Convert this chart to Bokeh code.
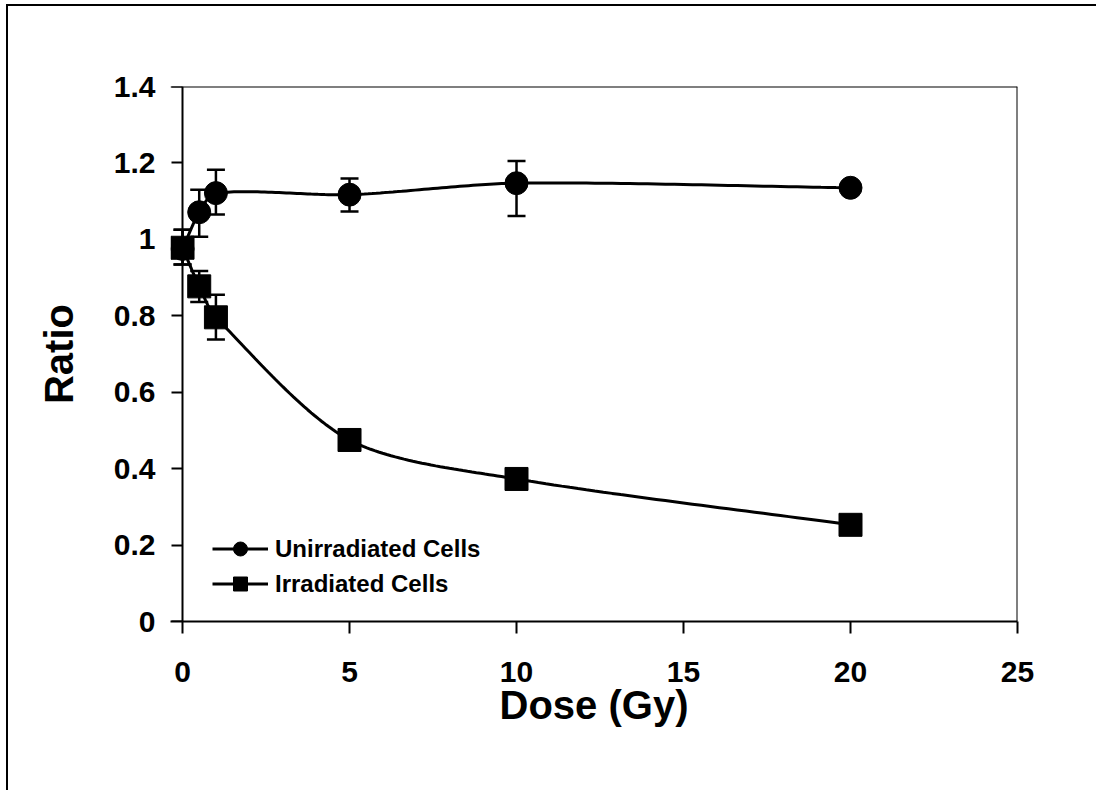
import math
from bokeh.plotting import figure
from bokeh.models import (ColumnDataSource, Whisker, TeeHead, FixedTicker, Legend, LegendItem,
                          Span, LinearAxis)
from bokeh.embed import file_html
from bokeh.resources import INLINE

# ---- data ----
dose = [0, 0.5, 1, 5, 10, 20]
unirr_ratio = [0.975, 1.071, 1.121, 1.117, 1.147, 1.135]
unirr_err_hi = [1.025, 1.130, 1.182, 1.159, 1.205, 1.145]
unirr_err_lo = [0.934, 1.007, 1.065, 1.073, 1.061, 1.125]
irr_ratio = [0.978, 0.877, 0.796, 0.475, 0.373, 0.253]
irr_err_hi = [1.025, 0.917, 0.855, 0.495, 0.388, 0.263]
irr_err_lo = [0.934, 0.836, 0.738, 0.455, 0.358, 0.243]
x_ticks = [0, 5, 10, 15, 20, 25]
x_tick_labels = ["0", "5", "10", "15", "20", "25"]
y_ticks = [0, 0.2, 0.4, 0.6, 0.8, 1.0, 1.2, 1.4]
y_tick_labels = ["0", "0.2", "0.4", "0.6", "0.8", "1", "1.2", "1.4"]
series_names = ["Unirradiated Cells", "Irradiated Cells"]
x_title = "Dose (Gy)"
y_title = "Ratio"

# x range starts slightly left of 0 so the markers at dose 0 are not cut by the frame
X0, X1, Y0, Y1 = -0.36, 25, 0, 1.4
W, H = 1090, 786
ML, MR, MT, MB = 162, 81, 80, 171
SX = (W - ML - MR) / (X1 - X0)
SY = (H - MT - MB) / (Y1 - Y0)


def smooth(xs, ys, n=40, k_ctrl=0.28):
    P = [(x * SX, y * SY) for x, y in zip(xs, ys)]
    m = len(P)
    T = []
    for i in range(m):
        if i == 0:
            d = (P[1][0] - P[0][0], P[1][1] - P[0][1])
        elif i == m - 1:
            d = (P[-1][0] - P[-2][0], P[-1][1] - P[-2][1])
        else:
            d = (P[i + 1][0] - P[i - 1][0], P[i + 1][1] - P[i - 1][1])
        l = math.hypot(*d) or 1
        T.append((d[0] / l, d[1] / l))
    ox, oy = [], []
    for i in range(m - 1):
        a, b = P[i], P[i + 1]
        L = math.hypot(b[0] - a[0], b[1] - a[1]) * k_ctrl
        c1 = (a[0] + T[i][0] * L, a[1] + T[i][1] * L)
        c2 = (b[0] - T[i + 1][0] * L, b[1] - T[i + 1][1] * L)
        for k in range(n + (1 if i == m - 2 else 0)):
            t = k / n
            u = 1 - t
            px = u**3 * a[0] + 3 * u * u * t * c1[0] + 3 * u * t * t * c2[0] + t**3 * b[0]
            py = u**3 * a[1] + 3 * u * u * t * c1[1] + 3 * u * t * t * c2[1] + t**3 * b[1]
            ox.append(px / SX)
            oy.append(py / SY)
    return ox, oy


p = figure(width=W, height=H, x_range=(X0, X1), y_range=(Y0, Y1),
           output_backend="svg", toolbar_location=None,
           min_border_left=ML, min_border_right=MR, min_border_top=MT, min_border_bottom=MB)
p.styles = {"border-left": "2px solid black", "border-top": "2px solid black",
            "margin-left": "6px", "margin-top": "4px"}
p.background_fill_color = "white"
p.border_fill_color = "white"
p.outline_line_color = None
p.xgrid.visible = False
p.ygrid.visible = False

for ax in (p.xaxis[0], p.yaxis[0]):
    ax.axis_line_width = 2
    ax.major_tick_line_width = 2
    ax.minor_tick_line_color = None
    ax.major_tick_in = 0
    ax.major_label_text_font = "Liberation Sans"
    ax.major_label_text_font_style = "bold"
    ax.major_label_text_font_size = "30px"
    ax.major_label_text_color = "black"
    ax.axis_label_text_font = "Liberation Sans"
    ax.axis_label_text_font_style = "bold"
    ax.axis_label_text_font_size = "40px"
    ax.axis_label_text_color = "black"

p.xaxis.ticker = FixedTicker(ticks=x_ticks)
p.xaxis.major_label_overrides = {t: l for t, l in zip(x_ticks, x_tick_labels)}
p.xaxis.major_tick_out = 12
p.xaxis.major_label_standoff = 28
p.xaxis.axis_label = x_title
p.xaxis.axis_label_standoff = -2

# labelled y axis (labels + title only)
ya = p.yaxis[0]
ya.ticker = FixedTicker(ticks=y_ticks)
ya.major_label_overrides = {t: l for t, l in zip(y_ticks, y_tick_labels)}
ya.axis_line_color = None
ya.major_tick_line_color = None
ya.major_tick_out = 0
ya.major_label_standoff = 15
ya.axis_label = y_title
ya.axis_label_standoff = 30

# y axis line and ticks at dose 0
y_line = LinearAxis(fixed_location=0, ticker=FixedTicker(ticks=y_ticks),
                    axis_line_width=2, major_tick_line_width=2, major_tick_out=11,
                    major_tick_in=0, minor_tick_line_color=None,
                    major_label_text_color=None, major_label_text_font_size="1px",
                    major_label_standoff=0)
p.add_layout(y_line, "left")

# frame top and right edges
p.add_layout(Span(location=Y1, dimension="width", line_color="black", line_width=2))
p.add_layout(Span(location=X1, dimension="height", line_color="black", line_width=2))

# error bars
for r, hi, lo in ((unirr_ratio, unirr_err_hi, unirr_err_lo), (irr_ratio, irr_err_hi, irr_err_lo)):
    src = ColumnDataSource(dict(x=dose, upper=hi, lower=lo))
    w = Whisker(base="x", upper="upper", lower="lower", source=src, dimension="height",
                line_width=2.5, line_color="black", level="underlay",
                upper_head=TeeHead(size=18, line_width=2.5, line_color="black"),
                lower_head=TeeHead(size=18, line_width=2.5, line_color="black"))
    p.add_layout(w)

ux, uy = smooth(dose, unirr_ratio)
ix, iy = smooth(dose, irr_ratio)
l1 = p.line(ux, uy, line_color="black", line_width=3)
l2 = p.line(ix, iy, line_color="black", line_width=3)
m1 = p.scatter(dose, unirr_ratio, marker="circle", size=23, fill_color="black", line_color="black")
m2 = p.scatter(dose, irr_ratio, marker="square", size=23, fill_color="black", line_color="black")

legend = Legend(items=[LegendItem(label=series_names[0], renderers=[l1, m1]),
                       LegendItem(label=series_names[1], renderers=[l2, m2])],
                location=(42, 20), border_line_color=None, background_fill_alpha=0,
                padding=0, margin=0, spacing=0, glyph_width=56, glyph_height=35,
                label_height=35, label_standoff=7,
                label_text_font="Liberation Sans", label_text_font_style="bold",
                label_text_font_size="24px", label_text_color="black")
p.add_layout(legend)

open("out.html", "w").write(file_html(p, INLINE))
